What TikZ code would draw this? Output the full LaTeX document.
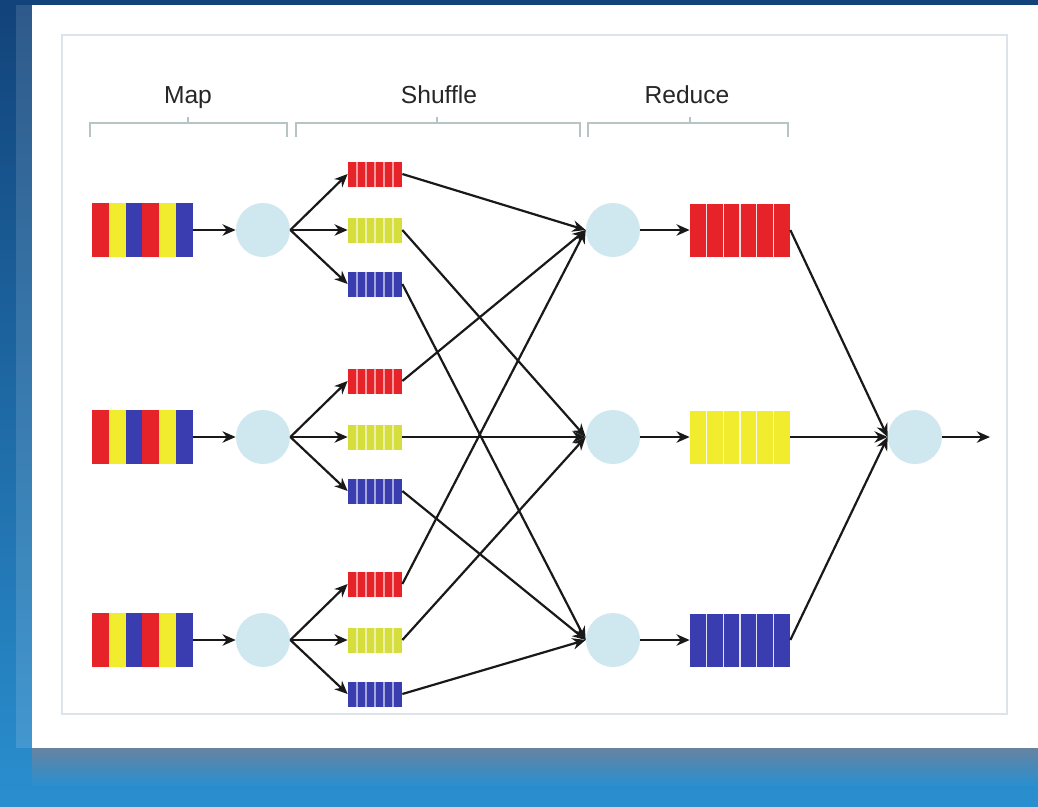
\documentclass[tikz,border=0pt]{standalone}
\usepackage{fontspec}
\setmainfont{Liberation Sans}
\usepackage{xcolor}
\usetikzlibrary{arrows.meta,calc}

\definecolor{mapred}{HTML}{E52329}
\definecolor{mapyellow}{HTML}{F2EC2E}
\definecolor{shufyellow}{HTML}{D6DE3E}
\definecolor{mapblue}{HTML}{3A3DB0}
\definecolor{taskfill}{HTML}{CFE7EE}
\definecolor{bracegray}{HTML}{B8C4C4}
\definecolor{framegray}{HTML}{DCE4E9}
\definecolor{deepblue}{HTML}{12437A}
\definecolor{skyblue}{HTML}{2A8FCF}
\definecolor{shadowblue}{HTML}{6683A0}
\definecolor{labelgray}{HTML}{262626}

\tikzset{
  task/.style={circle, fill=taskfill, minimum size=1.08cm, inner sep=0pt},
  splits/.style={path picture={
    \foreach \k in {1,...,5}
      \draw[#1, line width=0.7pt]
        ($(path picture bounding box.north west)!\k/6!(path picture bounding box.north east)$) --
        ($(path picture bounding box.south west)!\k/6!(path picture bounding box.south east)$);}},
  bucket/.style={fill=#1, minimum width=1.08cm, minimum height=0.5cm, inner sep=0pt, splits=#1!45!white},
  result/.style={fill=#1, minimum width=2cm, minimum height=1.06cm, inner sep=0pt, splits=white!85!#1},
  record/.style={minimum width=2.02cm, minimum height=1.08cm, inner sep=0pt},
  link/.style={-{Stealth[length=7.5pt,width=6.5pt]}, line width=1.25pt, black!90},
  brace/.style={draw=bracegray, line width=1.5pt},
  phase/.style={anchor=base, text=labelgray, font=\fontsize{14}{16}\selectfont}
}

\begin{document}
\begin{tikzpicture}[x=0.02cm, y=-0.02cm]
  % slide background
  \shade[top color=deepblue, bottom color=skyblue] (0,0) rectangle (1038,806);
  \shade[top color=shadowblue, bottom color=skyblue] (32,748) rectangle (1038,785);
  \fill[white, opacity=0.12] (16,5) rectangle (32,748);
  \fill[white] (32,5) rectangle (1038,748);
  \draw[framegray, line width=1pt] (62,35) rectangle (1007,714);

  % phase labels
  \node[phase] (lmap) at (188,103) {Map};
  \node[phase] (lshuffle) at (439,103) {Shuffle};
  \node[phase] (lreduce) at (687,103) {Reduce};
  \draw[brace] (90,137) -- (90,123) -- (287,123) -- (287,137) (188,123) -- (188,117);
  \draw[brace] (296,137) -- (296,123) -- (580,123) -- (580,137) (437,123) -- (437,117);
  \draw[brace] (588,137) -- (588,123) -- (788,123) -- (788,137) (690,123) -- (690,117);

  % map side
  \foreach \r/\y in {1/230, 2/437, 3/640} {
    \foreach \c [count=\i from 0] in {mapred,mapyellow,mapblue,mapred,mapyellow,mapblue}
      \fill[\c] (92+\i*16.8,\y-27) rectangle ++(16.8,54);
    \node[record] (rec\r) at (142.5,\y) {};
    \node[task] (map\r) at (263,\y) {};
    \node[bucket=mapred] (q\r r) at (375,\y-56) {};
    \node[bucket=shufyellow] (q\r y) at (375,\y) {};
    \node[bucket=mapblue] (q\r b) at (375,\y+54) {};
    \draw[link] (rec\r.east) -- (map\r.west);
    \foreach \c in {r,y,b}
      \draw[link] (map\r.east) -- (q\r\c.west);
  }

  % reduce side
  \foreach \t/\y/\c in {1/230/mapred, 2/437/mapyellow, 3/640/mapblue} {
    \node[task] (red\t) at (613,\y) {};
    \node[result=\c] (out\t) at (740,\y) {};
    \draw[link] (red\t.east) -- (out\t.west);
  }
  \node[task] (merge) at (915,437) {};
  \coordinate (done) at (990,437);

  % shuffle links
  \foreach \r in {1,2,3}
    \foreach \c/\t in {r/1, y/2, b/3}
      \draw[link] (q\r\c.east) -- (red\t.west);

  \foreach \t in {1,2,3}
    \draw[link] (out\t.east) -- (merge.west);
  \draw[link] (merge.east) -- (done);
\end{tikzpicture}
\end{document}
